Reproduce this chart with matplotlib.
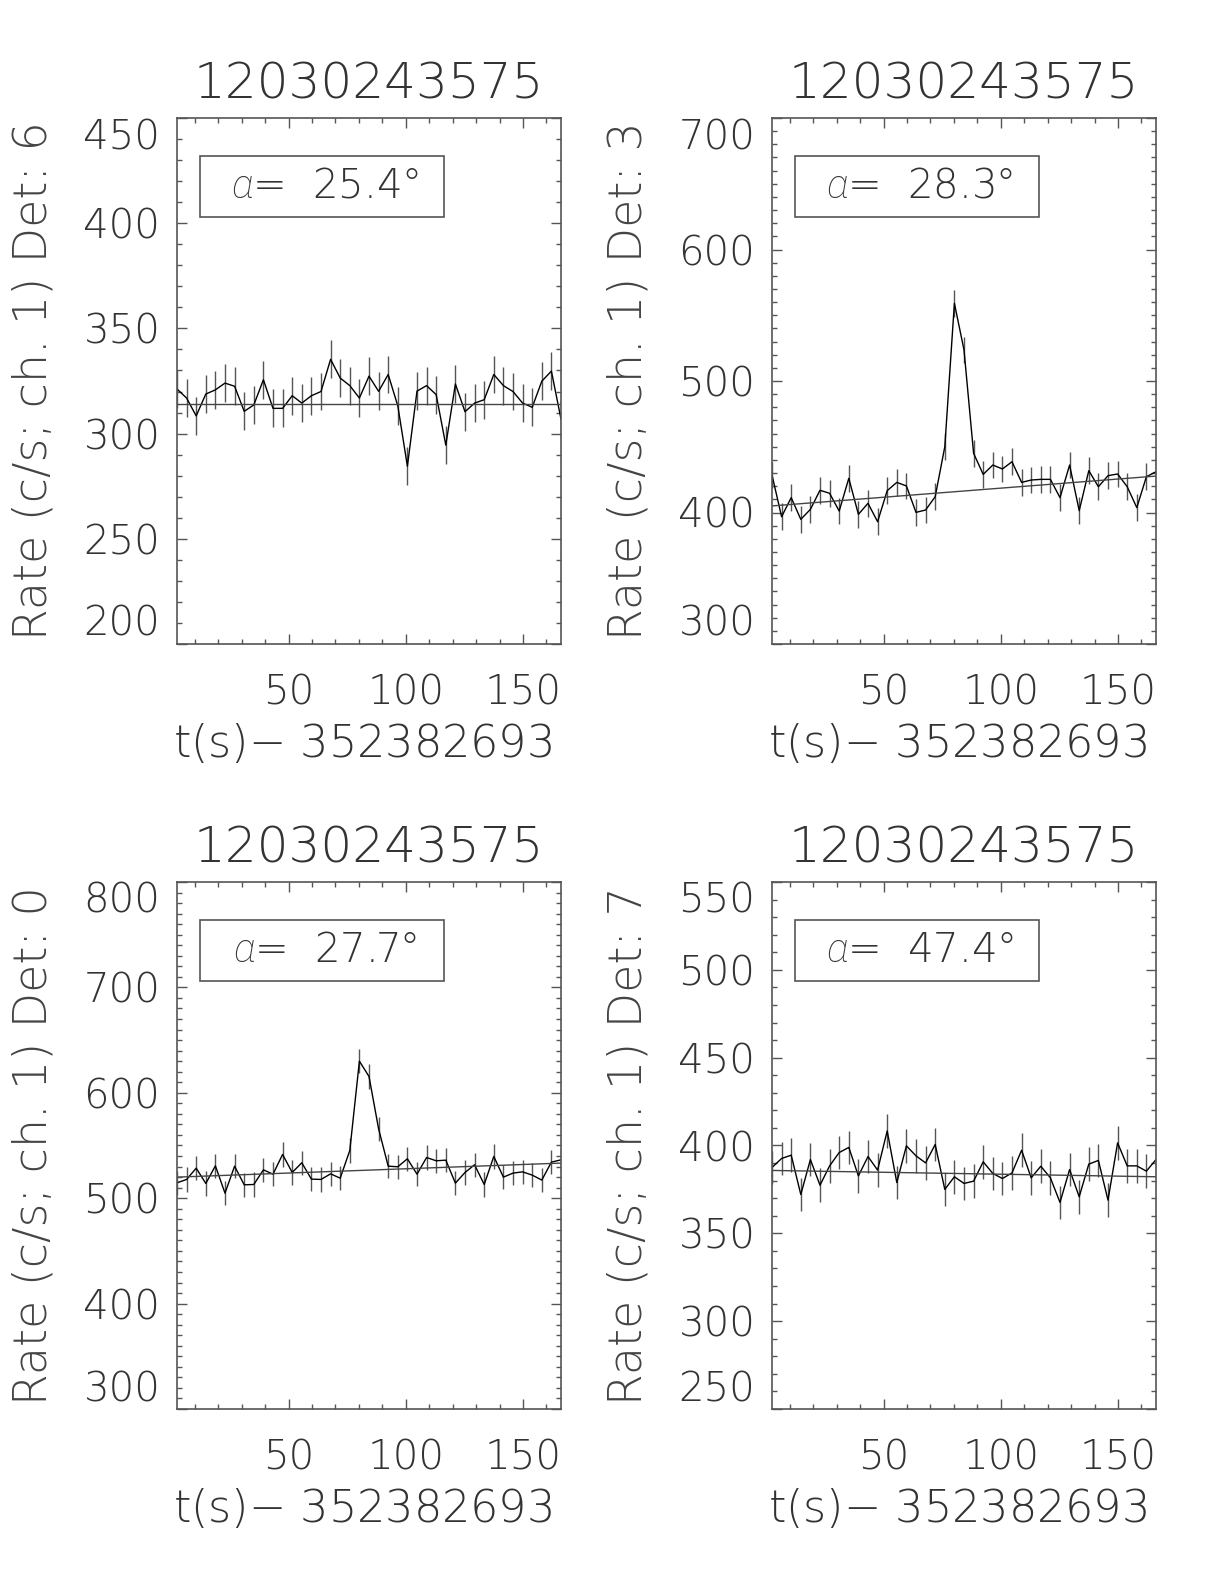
import matplotlib.pyplot as plt
import numpy as np
from matplotlib.patches import Rectangle

plt.rcParams['font.family'] = 'DejaVu Sans'
plt.rcParams['font.weight'] = 200
plt.rcParams['axes.titleweight'] = 200
plt.rcParams['axes.labelweight'] = 200
plt.rcParams['mathtext.fontset'] = 'custom'
plt.rcParams['mathtext.it'] = 'Roboto:italic:light'
plt.rcParams['mathtext.rm'] = 'DejaVu Sans:ultralight'

# burst / time reference
burst_name = '12030243575'
t_ref = 352382693
t_start = 2.4
bin_width = 4.096
n_bins = 41

# detectors, angles and axis ranges
detectors = ['6', '3', '0', '7']
angles = [25.4, 28.3, 27.7, 47.4]
y_ranges = [(200, 450), (300, 700), (300, 800), (250, 550)]
y_majors = [50, 100, 100, 50]

# count rates per detector (c/s, channel 1)
rate_det6 = [321.2, 316.9, 308.4, 318.8, 320.8, 324.0, 322.5, 310.6, 313.6, 325.6,
             312.0, 312.0, 318.0, 314.5, 318.0, 320.0, 335.3, 326.4, 322.8, 316.9,
             327.3, 320.1, 328.1, 313.2, 284.5, 320.2, 322.8, 318.5, 294.5, 323.6,
             310.4, 314.5, 316.1, 328.1, 322.8, 320.0, 314.5, 312.5, 324.9, 329.7, 306.9]
rate_det3 = [428.5, 396.8, 411.3, 394.8, 402.4, 416.9, 414.6, 401.1, 426.0, 398.6,
             407.0, 393.0, 416.6, 422.9, 420.2, 400.1, 401.9, 412.0, 450.0, 559.1,
             523.6, 445.0, 429.0, 436.1, 433.1, 438.6, 422.9, 424.7, 425.2, 425.2,
             411.3, 436.1, 401.4, 431.8, 419.6, 428.0, 429.3, 419.6, 403.7, 427.2, 431.0]
rate_det0 = [514.6, 517.8, 528.5, 514.0, 530.7, 504.8, 530.4, 512.7, 513.0, 526.9,
             522.8, 541.5, 524.4, 533.6, 518.1, 517.8, 523.1, 519.0, 545.3, 630.0,
             615.5, 565.8, 530.4, 529.8, 537.4, 522.8, 538.6, 535.5, 536.1, 514.3,
             524.4, 531.7, 513.0, 539.6, 520.0, 523.8, 525.0, 521.9, 517.2, 534.2, 536.4]
rate_det7 = [387.5, 392.6, 394.5, 372.1, 392.0, 377.4, 388.4, 396.0, 398.9, 382.7,
             393.7, 386.0, 408.3, 378.9, 399.8, 394.1, 390.1, 400.6, 375.0, 382.2,
             378.4, 379.7, 390.7, 384.1, 381.2, 384.4, 397.3, 381.6, 388.2, 381.6,
             367.6, 386.3, 370.8, 389.4, 391.5, 368.9, 401.5, 388.4, 388.4, 385.4, 392.0]
rates = [rate_det6, rate_det3, rate_det0, rate_det7]

# error bar half-size per detector (c/s)
rate_errors = [9.0, 10.2, 11.5, 9.6]

# linear background fit: value at first and last bin
bkg_start = [314.0, 405.0, 520.0, 385.8]
bkg_end = [314.0, 427.7, 533.3, 382.2]

times = t_start + bin_width * np.arange(n_bins)

W, H = 1224, 1584
fig = plt.figure(figsize=(W / 100, H / 100), dpi=100)

# axes boxes in pixels: left, top, right, bottom
boxes = [(177, 118, 561, 644), (772, 118, 1156, 644),
         (177, 882, 561, 1409), (772, 882, 1156, 1409)]

txt_col = '#333333'
ax_col = '#555555'

for i in range(4):
    l, t, r, b = boxes[i]
    ax = fig.add_axes([l / W, 1 - b / H, (r - l) / W, (b - t) / H])

    ax.errorbar(times, rates[i], yerr=rate_errors[i], fmt='none',
                ecolor='#555555', elinewidth=1.0, capsize=0)
    ax.plot(times, rates[i], color='black', lw=1.0)
    ax.plot([times[0], times[-1]], [bkg_start[i], bkg_end[i]], color='#444444', lw=1.0)

    ax.set_xlim(times[0], times[-1])
    ax.set_ylim(*y_ranges[i])
    ax.set_xticks([50, 100, 150])
    ax.set_xticks(np.arange(10, 170, 10), minor=True)
    y0, y1 = y_ranges[i]
    ax.set_yticks(np.arange(y0, y1 + 1, y_majors[i]))
    ax.set_yticks(np.arange(y0, y1 + 1, 10), minor=True)

    for s in ax.spines.values():
        s.set_color(ax_col)
        s.set_linewidth(1.2)
    ax.tick_params(which='both', direction='in', top=True, right=True,
                   colors=ax_col, labelcolor=txt_col, labelsize=29)
    ax.tick_params(which='major', length=7.5, width=1.0)
    ax.tick_params(which='minor', length=3.6, width=1.0)
    ax.tick_params(axis='x', pad=21)
    ax.tick_params(axis='y', pad=12)

    ylabs = ax.get_yticklabels()
    ylabs[0].set_va('bottom')
    ylabs[-1].set_va('top')

    ax.set_title(burst_name, fontsize=36, color=txt_col, pad=14)
    ax.set_xlabel('t(s)$-$ %d' % t_ref, fontsize=32, color=txt_col)
    ax.xaxis.label.set_va('center')
    ax.xaxis.set_label_coords(0.482, -0.19)
    ax.set_ylabel('Rate (c/s; ch. 1) Det: %s' % detectors[i], fontsize=33, color='#444444')
    ax.yaxis.label.set_va('center')
    ax.yaxis.set_label_coords(-0.374, 0.5)

    ax.add_patch(Rectangle((0.06, 0.812), 0.636, 0.115, transform=ax.transAxes,
                           fill=False, edgecolor=ax_col, lw=1.2))
    ax.text(0.385, 0.87, r'$\alpha$=  %.1f°' % angles[i], transform=ax.transAxes,
            ha='center', va='center', fontsize=29, color=txt_col)

fig.savefig('out.png', dpi=100, facecolor='white')
